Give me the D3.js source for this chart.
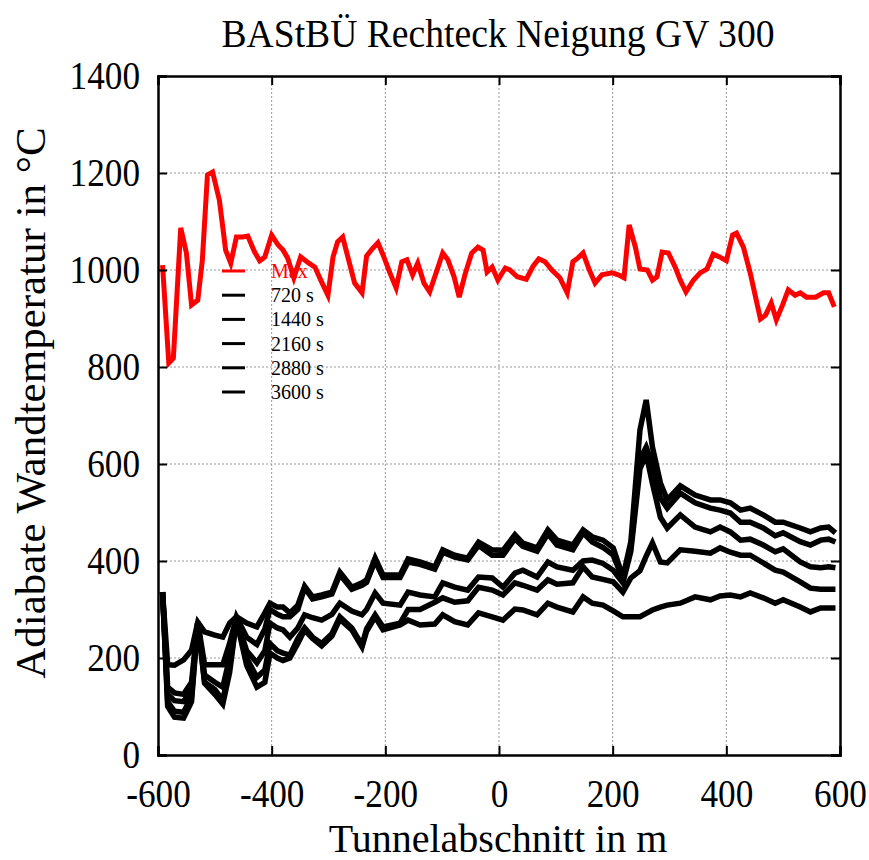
<!DOCTYPE html>
<html>
<head>
<meta charset="utf-8">
<script src="https://cdn.jsdelivr.net/npm/d3@7"></script>
<style>
  body { margin: 0; background: #fff; }
  text { font-family: "Liberation Serif", "Times New Roman", serif; }
</style>
</head>
<body>
<div id="chart"></div>
<script>
// Max curve (red)
const maxX = [-592,-581,-573,-560,-550,-541,-530,-522,-513,-504,-492,-481,-472,-462,-451,-442,-430,-421,-412,-400,-389,-380,-372,-361,-349,-338,-324,-312,-301,-292,-284,-275,-266,-254,-241,-233,-222,-213,-204,-192,-181,-171,-162,-152,-143,-132,-122,-109,-99,-90,-79,-70,-60,-48,-37,-28,-21,-12,-2,11,19,32,48,60,70,81,93,107,120,130,139,148,159,169,181,199,210,220,229,240,248,261,270,278,287,298,310,319,329,342,354,366,377,388,400,411,418,430,442,460,469,479,488,499,509,521,530,541,557,571,580,590];
const maxY = [1010,808,818,1087,1035,928,938,1020,1196,1202,1144,1041,1014,1068,1068,1070,1037,1019,1027,1072,1052,1041,1025,984,1027,1017,1006,975,948,1027,1058,1068,1027,973,953,1029,1045,1056,1031,994,963,1017,1021,990,1014,973,955,1000,1035,1021,986,944,990,1035,1047,1041,996,1006,979,1004,1000,986,981,1008,1023,1017,1000,984,953,1017,1025,1035,1000,973,990,994,990,984,1093,1047,1002,1000,979,986,1037,1035,1006,979,955,979,994,1002,1033,1027,1019,1072,1076,1047,994,899,907,932,897,928,959,948,953,944,944,953,953,924];

// time curves (black), shared positions
const posX = [-592,-583,-571,-555,-541,-530,-518,-500,-486,-474,-462,-444,-426,-412,-403,-390,-380,-368,-354,-342,-328,-312,-294,-280,-259,-241,-233,-218,-204,-174,-160,-139,-113,-99,-78,-55,-36,-12,7,28,42,67,86,102,130,148,164,183,201,218,232,248,259,270,284,296,319,345,372,389,407,425,442,465,486,500,530,548,566,580,592];
const t720 = [336,100,78,76,110,274,148,125,105,170,
  278,185,140,150,210,200,195,200,230,258,
  240,225,245,280,258,223,255,285,258,268,
  278,268,270,289,275,268,293,285,278,301,
  299,289,313,305,295,326,313,309,297,285,
  285,285,292,299,305,309,313,326,320,328,
  330,326,334,324,313,320,305,295,303,303,303];
const t1440 = [336,110,90,88,120,274,150,135,113,180,
  280,200,160,175,230,215,210,206,240,262,
  243,230,250,285,262,227,260,289,264,272,
  300,300,315,324,315,318,346,340,330,355,
  350,340,361,352,355,388,367,362,357,336,
  365,380,410,437,398,396,423,420,416,427,
  418,412,412,396,381,377,357,344,342,342,342];
const t2160 = [336,125,112,110,135,274,165,150,140,200,
  282,215,190,215,272,262,258,243,262,289,
  283,278,290,313,297,289,300,334,313,309,
  336,330,326,355,346,340,367,365,346,375,
  381,367,398,388,381,400,402,395,381,355,
  420,590,620,560,490,468,495,470,460,470,
  460,443,445,433,419,425,398,388,386,388,386];
const t2880 = [336,140,128,125,150,274,186,186,186,230,
  285,243,228,260,300,290,285,285,300,345,
  322,326,332,372,342,350,356,400,366,366,
  398,393,383,418,408,402,432,412,412,446,
  430,420,456,433,423,458,439,428,412,362,
  430,610,635,600,530,509,540,520,509,505,
  499,480,480,468,452,458,440,433,443,445,439];
const t3600 = [336,186,185,196,216,274,254,247,243,272,
  285,272,264,293,313,305,305,293,309,348,
  326,330,336,377,346,355,361,406,371,371,
  404,398,388,423,412,406,439,423,422,454,
  437,427,464,443,433,464,450,443,427,367,
  440,670,732,635,561,526,555,536,526,526,
  520,505,509,495,480,480,468,460,468,470,458];

const xTicks = [-600, -400, -200, 0, 200, 400, 600];
const yTicks = [0, 200, 400, 600, 800, 1000, 1200, 1400];
const legendLabels = ["Max", "720 s", "1440 s", "2160 s", "2880 s", "3600 s"];

const W = 869, H = 860;
const pl = 158, pr = 840, pt = 76, pb = 755;

const svg = d3.select("#chart").append("svg")
  .attr("width", W).attr("height", H);

const x = d3.scaleLinear().domain([-600, 600]).range([pl, pr]);
const y = d3.scaleLinear().domain([0, 1400]).range([pb, pt]);

// dotted grid
svg.append("g").selectAll("line").data(xTicks.slice(1, -1)).join("line")
  .attr("x1", d => x(d)).attr("x2", d => x(d))
  .attr("y1", pt).attr("y2", pb)
  .attr("stroke", "#999").attr("stroke-width", 1).attr("stroke-dasharray", "2,2");
svg.append("g").selectAll("line").data(yTicks.slice(1, -1)).join("line")
  .attr("x1", pl).attr("x2", pr)
  .attr("y1", d => y(d)).attr("y2", d => y(d))
  .attr("stroke", "#999").attr("stroke-width", 1).attr("stroke-dasharray", "2,2");

const line = d3.line().x(d => x(d[0])).y(d => y(d[1]));

const series = [t720, t1440, t2160, t2880, t3600];
svg.append("g").selectAll("path").data(series).join("path")
  .attr("d", s => line(posX.map((p, i) => [p, s[i]])))
  .attr("fill", "none").attr("stroke", "#000").attr("stroke-width", 5.5);

svg.append("path")
  .attr("d", line(maxX.map((p, i) => [p, maxY[i]])))
  .attr("fill", "none").attr("stroke", "#ff0000").attr("stroke-width", 5);

// axes with inward ticks on all four sides
const fs = 40;
const axB = svg.append("g").attr("transform", `translate(0,${pb})`)
  .call(d3.axisBottom(x).tickValues(xTicks).tickSize(-9).tickPadding(24).tickFormat(d3.format("d")));
const axT = svg.append("g").attr("transform", `translate(0,${pt})`)
  .call(d3.axisTop(x).tickValues(xTicks).tickSize(-9).tickFormat(""));
const axL = svg.append("g").attr("transform", `translate(${pl},0)`)
  .call(d3.axisLeft(y).tickValues(yTicks).tickSize(-9).tickPadding(18).tickFormat(d3.format("d")));
const axR = svg.append("g").attr("transform", `translate(${pr},0)`)
  .call(d3.axisRight(y).tickValues(yTicks).tickSize(-9).tickFormat(""));
[axB, axT, axL, axR].forEach(g => {
  g.select(".domain").attr("stroke-width", 2.5);
  g.selectAll(".tick line").attr("stroke-width", 2);
  g.selectAll("text").attr("font-family", "Liberation Serif").attr("font-size", fs).attr("fill", "#000");
});
axB.selectAll(".tick text").text(d => d < 0 ? "-" + Math.abs(d) : d);
// the original font is narrower than Liberation Serif
[axB, axL].forEach(g => g.selectAll(".tick text").each(function () {
  d3.select(this).attr("textLength", this.getComputedTextLength() * 0.88)
    .attr("lengthAdjust", "spacingAndGlyphs");
}));

// titles
svg.append("text").attr("x", 498).attr("y", 47).attr("text-anchor", "middle")
  .attr("font-size", 40).attr("textLength", 553).attr("lengthAdjust", "spacingAndGlyphs")
  .text("BAStBÜ Rechteck Neigung GV 300");
svg.append("text").attr("x", 498).attr("y", 852).attr("text-anchor", "middle")
  .attr("font-size", 40).text("Tunnelabschnitt in m");
svg.append("text").attr("transform", "translate(45,403) rotate(-90)").attr("text-anchor", "middle")
  .attr("font-size", 43).text("Adiabate Wandtemperatur in °C");

// legend
const leg = svg.append("g");
legendLabels.forEach((lab, i) => {
  const yy = 271 + i * 24.2;
  const col = i === 0 ? "#ff0000" : "#000";
  leg.append("line").attr("x1", 222).attr("x2", 245).attr("y1", yy).attr("y2", yy)
    .attr("stroke", col).attr("stroke-width", 3);
  leg.append("text").attr("x", 271).attr("y", yy + 7).attr("font-size", 20)
    .attr("fill", col).text(lab);
});
</script>
</body>
</html>
